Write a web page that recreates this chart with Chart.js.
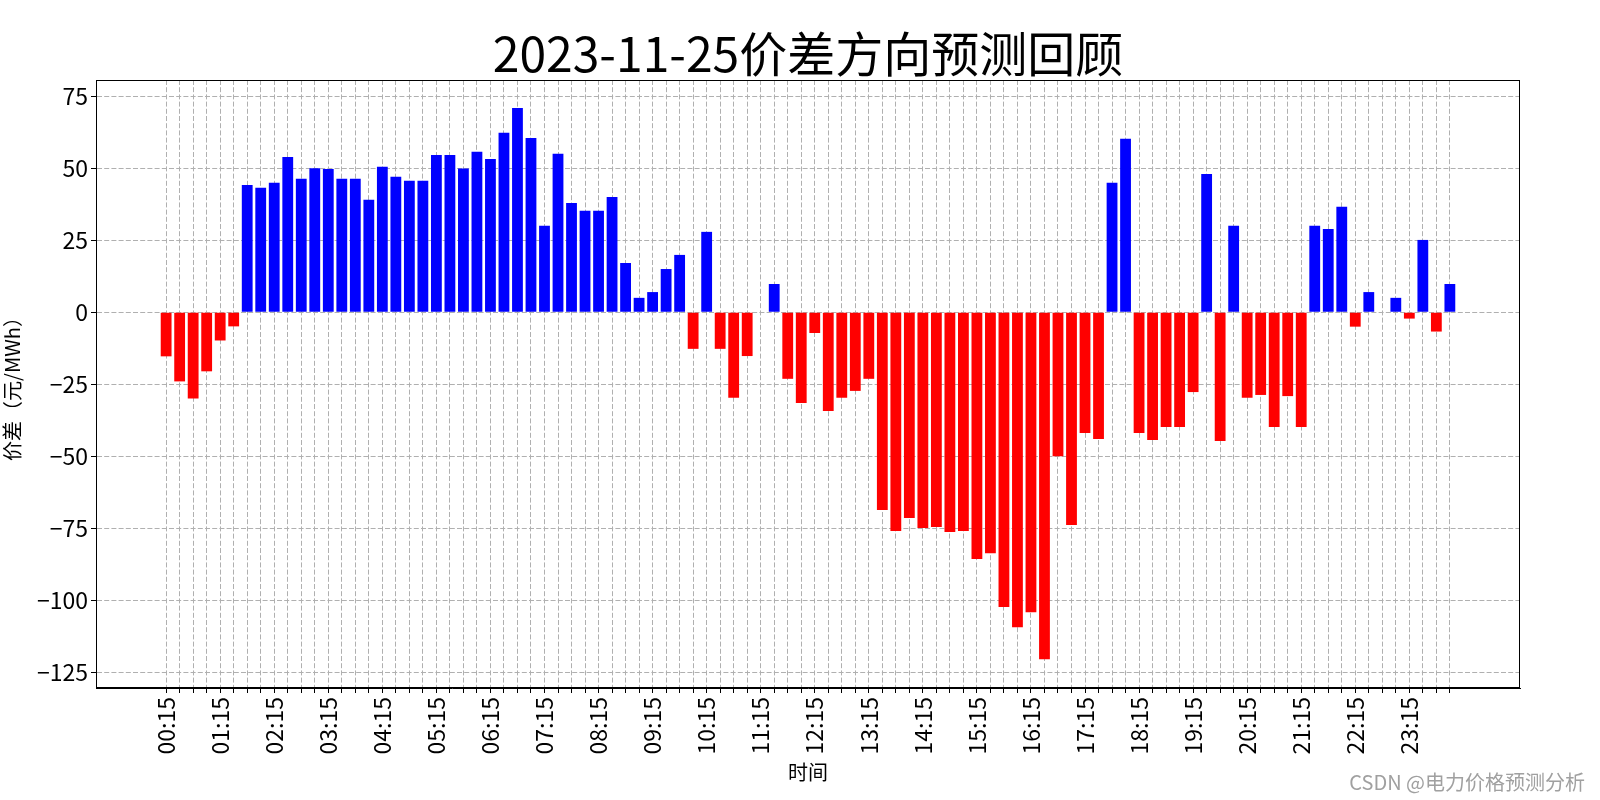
<!DOCTYPE html>
<html>
<head>
<meta charset="utf-8">
<title>2023-11-25价差方向预测回顾</title>
<script src="https://cdn.jsdelivr.net/npm/chart.js@4.4.0/dist/chart.umd.min.js"></script>
<style>
  html, body { margin: 0; padding: 0; background: #fff; }
  #wrap { width: 1600px; height: 800px; }
</style>
</head>
<body>
<div id="wrap"><canvas id="priceChart" width="1600" height="800"></canvas></div>
<script>
// 15-minute periods of the day
const times = [
  "00:15", "00:30", "00:45", "01:00", "01:15", "01:30", "01:45", "02:00",
  "02:15", "02:30", "02:45", "03:00", "03:15", "03:30", "03:45", "04:00",
  "04:15", "04:30", "04:45", "05:00", "05:15", "05:30", "05:45", "06:00",
  "06:15", "06:30", "06:45", "07:00", "07:15", "07:30", "07:45", "08:00",
  "08:15", "08:30", "08:45", "09:00", "09:15", "09:30", "09:45", "10:00",
  "10:15", "10:30", "10:45", "11:00", "11:15", "11:30", "11:45", "12:00",
  "12:15", "12:30", "12:45", "13:00", "13:15", "13:30", "13:45", "14:00",
  "14:15", "14:30", "14:45", "15:00", "15:15", "15:30", "15:45", "16:00",
  "16:15", "16:30", "16:45", "17:00", "17:15", "17:30", "17:45", "18:00",
  "18:15", "18:30", "18:45", "19:00", "19:15", "19:30", "19:45", "20:00",
  "20:15", "20:30", "20:45", "21:00", "21:15", "21:30", "21:45", "22:00",
  "22:15", "22:30", "22:45", "23:00", "23:15", "23:30", "23:45", "24:00"
];

// price difference (元/MWh)
const diffs = [
  -15.3, -24.0, -29.9, -20.5, -9.8, -4.9, 44.2, 43.2,
  44.9, 53.9, 46.3, 50.0, 49.7, 46.3, 46.3, 39.0,
  50.5, 47.0, 45.6, 45.6, 54.6, 54.6, 49.9, 55.7,
  53.2, 62.3, 70.9, 60.5, 30.0, 55.0, 37.9, 35.2,
  35.2, 40.0, 17.1, 5.0, 7.0, 15.0, 19.9, -12.7,
  27.9, -12.7, -29.7, -15.2, 0, 9.8, -23.1, -31.5,
  -7.2, -34.3, -29.7, -27.3, -23.1, -68.6, -75.9, -71.4,
  -74.9, -74.5, -76.3, -75.9, -85.6, -83.6, -102.3, -109.3,
  -104.1, -120.4, -50.0, -73.8, -41.9, -44.0, 44.9, 60.2,
  -41.9, -44.3, -39.8, -39.8, -27.7, 48.0, -44.7, 30.0,
  -29.7, -28.7, -39.8, -29.1, -39.8, 30.0, 28.9, 36.6,
  -5.0, 7.0, 0, 5.0, -2.2, 25.1, -6.7, 9.8
];

const yTicks = [-125, -100, -75, -50, -25, 0, 25, 50, 75];
const labelEvery = 4;

const fontFamily = "'Noto Sans CJK SC', 'Noto Sans', sans-serif";
const gridDash = [5, 2.2];

// title, watermark and the box round the plot
const decorations = {
  id: "decorations",
  afterDraw(chart) {
    const { ctx, chartArea: a } = chart;
    ctx.save();
    ctx.strokeStyle = "#000";
    ctx.lineWidth = 1;
    ctx.strokeRect(a.left + 0.5, a.top + 0.5, a.right - a.left - 1, a.bottom - a.top - 1);

    ctx.fillStyle = "#000";
    ctx.font = "48px " + fontFamily;
    ctx.textAlign = "center";
    ctx.textBaseline = "middle";
    ctx.fillText("2023-11-25价差方向预测回顾", (a.left + a.right) / 2, 54);

    ctx.fillStyle = "#a0a0a0";
    ctx.font = "20px " + fontFamily;
    ctx.textAlign = "right";
    ctx.fillText("CSDN @电力价格预测分析", 1585, 782);
    ctx.restore();
  }
};

const ctx = document.getElementById("priceChart").getContext("2d");
new Chart(ctx, {
  type: "bar",
  data: {
    datasets: [{
      data: diffs.map((v, i) => ({ x: i, y: v })),
      backgroundColor: diffs.map(v => (v >= 0 ? "#0000ff" : "#ff0000")),
      barPercentage: 0.8,
      categoryPercentage: 1.0
    }]
  },
  options: {
    responsive: false,
    animation: false,
    layout: { padding: { top: 80, right: 80, bottom: 12, left: 0 } },
    plugins: {
      legend: { display: false },
      tooltip: { enabled: false }
    },
    scales: {
      x: {
        type: "linear",
        min: -5.19,
        max: 100.19,
        bounds: "data",
        offset: false,
        z: 1,
        afterBuildTicks: s => { s.ticks = times.map((t, i) => ({ value: i })); },
        afterFit: s => { s.height = 100; },
        ticks: {
          autoSkip: false,
          minRotation: 90,
          maxRotation: 90,
          padding: 4,
          color: "#000",
          font: { family: fontFamily, size: 23 },
          callback: v => (Math.round(v) % labelEvery === 0 ? times[Math.round(v)] : "")
        },
        grid: { color: "#b0b0b0", lineWidth: 1, tickColor: "#000", tickLength: 5, offset: false },
        border: { display: true, color: "#000", width: 1, dash: gridDash },
        title: {
          display: true,
          text: "时间",
          color: "#000",
          font: { family: fontFamily, size: 20 },
          padding: { top: 0, bottom: 4 }
        }
      },
      y: {
        type: "linear",
        min: -130.4,
        max: 80.6,
        bounds: "data",
        z: 1,
        afterBuildTicks: s => { s.ticks = yTicks.map(v => ({ value: v })); },
        afterFit: s => { s.width = 96; },
        ticks: {
          padding: 3,
          color: "#000",
          font: { family: fontFamily, size: 23 },
          callback: v => (v < 0 ? "\u2212" + Math.abs(v) : String(v))
        },
        grid: { color: "#b0b0b0", lineWidth: 1, tickColor: "#000", tickLength: 5 },
        border: { display: true, color: "#000", width: 1, dash: gridDash },
        title: {
          display: true,
          text: "价差（元/MWh）",
          color: "#000",
          font: { family: fontFamily, size: 20 },
          padding: { top: 0, bottom: 0 }
        }
      }
    }
  },
  plugins: [decorations]
});
</script>
</body>
</html>
